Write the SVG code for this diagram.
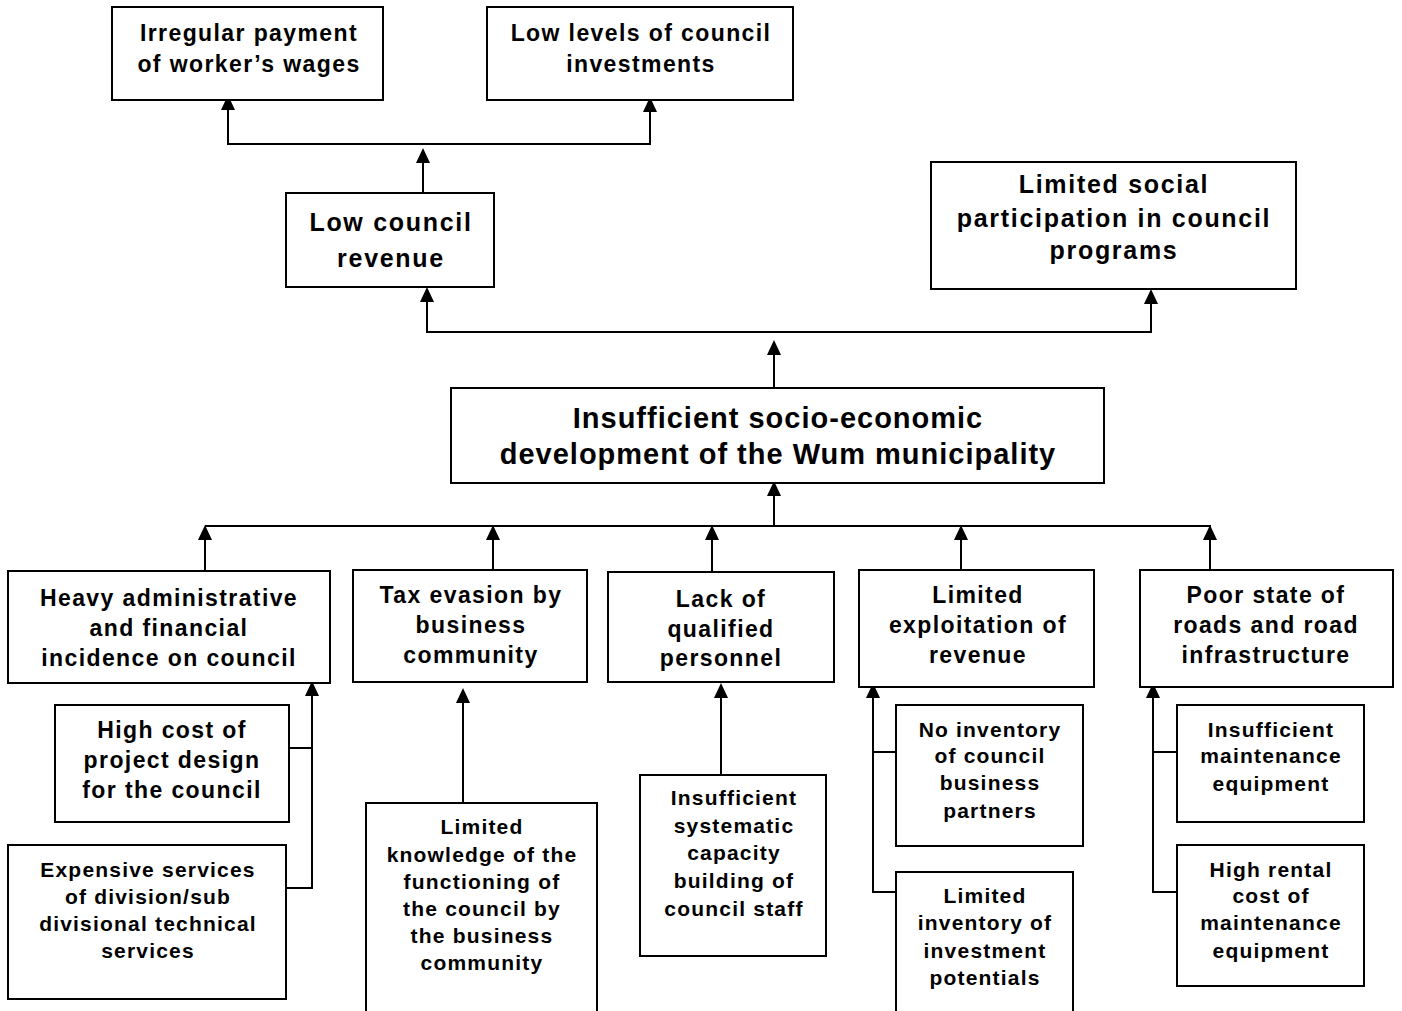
<svg xmlns="http://www.w3.org/2000/svg" width="1402" height="1011" viewBox="0 0 1402 1011">
<defs>
<style>
.box{fill:#fff;stroke:#000;stroke-width:2}
.c{fill:none;stroke:#000;stroke-width:2;marker-end:url(#ah)}
.l{fill:none;stroke:#000;stroke-width:2}
text{font-family:"Liberation Sans",Arial,Helvetica,sans-serif;font-weight:bold;text-anchor:middle;fill:#000}
.f22{font-size:23px;letter-spacing:1.4px}
.f25{font-size:25px;letter-spacing:1.7px}
.f29{font-size:29px;letter-spacing:1px}
.f23{font-size:23px;letter-spacing:1.4px}
.f21{font-size:21px;letter-spacing:1.2px}
</style>
<marker id="ah" markerUnits="userSpaceOnUse" markerWidth="16" markerHeight="16" viewBox="0 -8 16 16" refX="8" refY="0" orient="auto"><path d="M0,-7 L15,0 L0,7 Z" fill="#000"/></marker>
</defs>
<rect width="1402" height="1011" fill="#fff"/>
<g id="connectors">
<path class="c" d="M423,144 L228,144 L228,102"/>
<path class="c" d="M423,144 L650,144 L650,104"/>
<path class="c" d="M423,193 L423,155"/>
<path class="c" d="M774,332 L427,332 L427,294"/>
<path class="c" d="M774,332 L1151,332 L1151,296"/>
<path class="c" d="M774,388 L774,347"/>
<path class="c" d="M774,526 L774,488"/>
<path class="l" d="M205,526 L1211,526"/>
<path class="c" d="M205,571 L205,532"/>
<path class="c" d="M493,570 L493,532"/>
<path class="c" d="M712,572 L712,532"/>
<path class="c" d="M961,570 L961,532"/>
<path class="c" d="M1210,570 L1210,532"/>
<path class="l" d="M289,748 L312,748"/>
<path class="c" d="M286,888 L312,888 L312,688"/>
<path class="c" d="M463,803 L463,695"/>
<path class="c" d="M721,775 L721,690"/>
<path class="l" d="M896,752 L873,752"/>
<path class="c" d="M899,892 L873,892 L873,690"/>
<path class="l" d="M1177,752 L1153,752"/>
<path class="c" d="M1183,892 L1153,892 L1153,690"/>
</g>
<g id="n1"><rect class="box" x="112" y="7" width="271" height="93"/>
<text class="f22"><tspan x="249" y="41">Irregular payment</tspan><tspan x="249" y="72">of worker’s wages</tspan></text></g>
<g id="n2"><rect class="box" x="487" y="7" width="306" height="93"/>
<text class="f22"><tspan x="641" y="41">Low levels of council</tspan><tspan x="641" y="72">investments</tspan></text></g>
<g id="n3"><rect class="box" x="286" y="193" width="208" height="94"/>
<text class="f25"><tspan x="391" y="231">Low council</tspan><tspan x="391" y="267">revenue</tspan></text></g>
<g id="n4"><rect class="box" x="931" y="162" width="365" height="127"/>
<text class="f25"><tspan x="1114" y="193">Limited social</tspan><tspan x="1114" y="227">participation in council</tspan><tspan x="1114" y="259">programs</tspan></text></g>
<g id="n5"><rect class="box" x="451" y="388" width="653" height="95"/>
<text class="f29"><tspan x="778" y="428">Insufficient socio-economic</tspan><tspan x="778" y="464">development of the Wum municipality</tspan></text></g>
<g id="n6"><rect class="box" x="8" y="571" width="322" height="112"/>
<text class="f23"><tspan x="169" y="606">Heavy administrative</tspan><tspan x="169" y="636">and financial</tspan><tspan x="169" y="666">incidence on council</tspan></text></g>
<g id="n7"><rect class="box" x="353" y="570" width="234" height="112"/>
<text class="f23"><tspan x="471" y="603">Tax evasion by</tspan><tspan x="471" y="633">business</tspan><tspan x="471" y="663">community</tspan></text></g>
<g id="n8"><rect class="box" x="608" y="572" width="226" height="110"/>
<text class="f23"><tspan x="721" y="607">Lack of</tspan><tspan x="721" y="637">qualified</tspan><tspan x="721" y="666">personnel</tspan></text></g>
<g id="n9"><rect class="box" x="859" y="570" width="235" height="117"/>
<text class="f23"><tspan x="978" y="603">Limited</tspan><tspan x="978" y="633">exploitation of</tspan><tspan x="978" y="663">revenue</tspan></text></g>
<g id="n10"><rect class="box" x="1140" y="570" width="253" height="117"/>
<text class="f23"><tspan x="1266" y="603">Poor state of</tspan><tspan x="1266" y="633">roads and road</tspan><tspan x="1266" y="663">infrastructure</tspan></text></g>
<g id="n11"><rect class="box" x="55" y="705" width="234" height="117"/>
<text class="f23"><tspan x="172" y="738">High cost of</tspan><tspan x="172" y="768">project design</tspan><tspan x="172" y="798">for the council</tspan></text></g>
<g id="n12"><rect class="box" x="8" y="845" width="278" height="154"/>
<text class="f21"><tspan x="148" y="877">Expensive services</tspan><tspan x="148" y="904">of division/sub</tspan><tspan x="148" y="931">divisional technical</tspan><tspan x="148" y="958">services</tspan></text></g>
<g id="n13"><rect class="box" x="366" y="803" width="231" height="215"/>
<text class="f21"><tspan x="482" y="834">Limited</tspan><tspan x="482" y="862">knowledge of the</tspan><tspan x="482" y="889">functioning of</tspan><tspan x="482" y="916">the council by</tspan><tspan x="482" y="943">the business</tspan><tspan x="482" y="970">community</tspan></text></g>
<g id="n14"><rect class="box" x="640" y="775" width="186" height="181"/>
<text class="f21"><tspan x="734" y="805">Insufficient</tspan><tspan x="734" y="833">systematic</tspan><tspan x="734" y="860">capacity</tspan><tspan x="734" y="888">building of</tspan><tspan x="734" y="916">council staff</tspan></text></g>
<g id="n15"><rect class="box" x="896" y="705" width="187" height="141"/>
<text class="f21"><tspan x="990" y="737">No inventory</tspan><tspan x="990" y="763">of council</tspan><tspan x="990" y="790">business</tspan><tspan x="990" y="818">partners</tspan></text></g>
<g id="n16"><rect class="box" x="896" y="872" width="177" height="146"/>
<text class="f21"><tspan x="985" y="903">Limited</tspan><tspan x="985" y="930">inventory of</tspan><tspan x="985" y="958">investment</tspan><tspan x="985" y="985">potentials</tspan></text></g>
<g id="n17"><rect class="box" x="1177" y="705" width="187" height="117"/>
<text class="f21"><tspan x="1271" y="737">Insufficient</tspan><tspan x="1271" y="763">maintenance</tspan><tspan x="1271" y="791">equipment</tspan></text></g>
<g id="n18"><rect class="box" x="1177" y="845" width="187" height="141"/>
<text class="f21"><tspan x="1271" y="877">High rental</tspan><tspan x="1271" y="903">cost of</tspan><tspan x="1271" y="930">maintenance</tspan><tspan x="1271" y="958">equipment</tspan></text></g>
</svg>
